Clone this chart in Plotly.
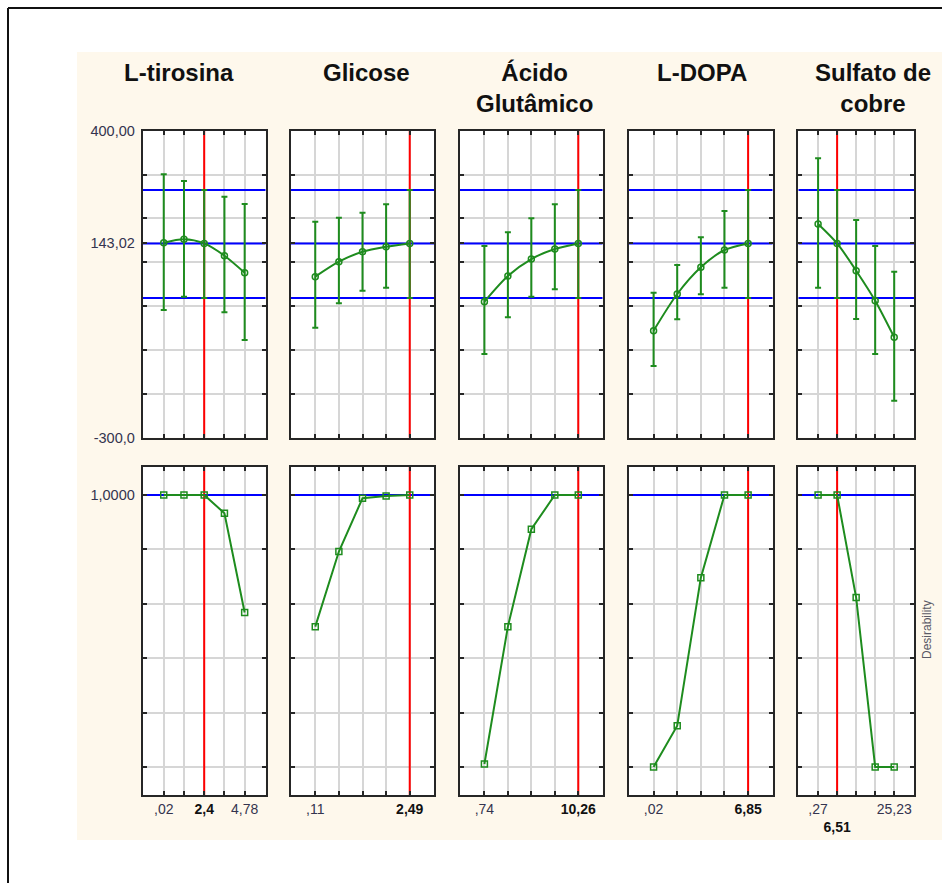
import plotly.graph_objects as go

# ---------------- data ----------------
factors = ["L-tirosina", "Glicose", "Ácido<br>Glutâmico", "L-DOPA", "Sulfato de<br>cobre"]

levels_lt = [0.02, 1.21, 2.40, 3.59, 4.78]
levels_gl = [0.11, 0.705, 1.30, 1.895, 2.49]
levels_ag = [0.74, 3.12, 5.50, 7.88, 10.26]
levels_ld = [0.02, 1.7275, 3.435, 5.1425, 6.85]
levels_sc = [0.27, 6.51, 12.75, 18.99, 25.23]

current_levels = [2.40, 2.49, 10.26, 6.85, 6.51]

# x tick labels (one per level, empty = unlabeled)
ticktext_lt = [",02", "", "2,4", "", "4,78"]
ticktext_gl = [",11", "", "", "", "2,49"]
ticktext_ag = [",74", "", "", "", "10,26"]
ticktext_ld = [",02", "", "", "", "6,85"]
ticktext_sc = [",27", "6,51", "", "", "25,23"]

# predicted response (mean) and confidence limits
resp_lt = [144.6, 152.4, 143.02, 115.0, 76.2]
upper_lt = [300.6, 285.3, 265.0, 249.5, 232.9]
lower_lt = [-8.8, 21.5, 18.5, -14.0, -77.2]

resp_gl = [67.1, 101.3, 124.1, 135.5, 143.02]
upper_gl = [192.5, 201.6, 213.0, 232.2, 265.0]
lower_gl = [-49.2, 6.5, 35.2, 42.0, 18.5]

resp_ag = [10.1, 68.7, 107.4, 130.3, 143.02]
upper_ag = [137.1, 168.4, 200.3, 232.2, 265.0]
lower_ag = [-109.1, -25.4, 21.5, 38.4, 18.5]

resp_ld = [-56.0, 27.7, 88.6, 128.0, 143.02]
upper_ld = [30.6, 93.8, 157.0, 216.9, 265.0]
lower_ld = [-136.5, -30.0, 27.0, 42.0, 18.5]

resp_sc = [187.3, 143.02, 80.8, 12.4, -71.0]
upper_sc = [337.1, 265.0, 196.4, 137.1, 78.5]
lower_sc = [42.0, 18.5, -29.3, -109.1, -215.6]

pred_value = 143.02
pred_upper = 265.0
pred_lower = 18.5

# desirability
desir_lt = [1.0, 1.0, 1.0, 0.933, 0.568]
desir_gl = [0.516, 0.792, 0.988, 0.996, 1.0]
desir_ag = [0.011, 0.516, 0.874, 1.0, 1.0]
desir_ld = [0.0, 0.152, 0.696, 1.0, 1.0]
desir_sc = [1.0, 1.0, 0.623, 0.0, 0.0]
desir_max = 1.0

resp_range = [-300, 400]
resp_ticks = [-300, -200, -100, 0, 100, 200, 300, 400, 143.02]
resp_ticktext = ["-300,0", "", "", "", "", "", "", "400,00", "143,02"]
desir_range = [-0.103, 1.104]
desir_ticks = [0.0, 0.2, 0.4, 0.6, 0.8, 1.0]
desir_ticktext = ["", "", "", "", "", "1,0000"]

levels = [levels_lt, levels_gl, levels_ag, levels_ld, levels_sc]
ticktexts = [ticktext_lt, ticktext_gl, ticktext_ag, ticktext_ld, ticktext_sc]
resps = [resp_lt, resp_gl, resp_ag, resp_ld, resp_sc]
uppers = [upper_lt, upper_gl, upper_ag, upper_ld, upper_sc]
lowers = [lower_lt, lower_gl, lower_ag, lower_ld, lower_sc]
desirs = [desir_lt, desir_gl, desir_ag, desir_ld, desir_sc]

# ---------------- layout geometry (pixels) ----------------
W, H = 942, 883
col_px = [(142.7, 265.7), (290.7, 434.3), (460.0, 602.7), (629.0, 772.7), (798.3, 914.0)]
row_px = [(130.7, 437.7), (466.7, 795.0)]
title_cx = [178.6, 366.0, 534.0, 701.7, 872.5]
pad_steps = 1.04

GREEN = "#1E8C1E"
GRID = "#D6D6D6"
AXC = "#262626"
LABC = "#34344f"
BEIGE = "#FEF8EC"


def px_x(v):
    return v / W


def px_y(v):
    return 1 - v / H


fig = go.Figure()
layout = dict(
    width=W, height=H, autosize=False,
    margin=dict(l=0, r=0, t=0, b=0, pad=0, autoexpand=False),
    paper_bgcolor=BEIGE, plot_bgcolor="white",
    showlegend=False,
    font=dict(family="Liberation Sans, Arial, sans-serif", color=LABC),
)
shapes = []
annotations = []

# white surround outside the beige area
for (x0, x1, y0, y1) in [(-2, 77, -2, H + 2), (-2, W + 2, -2, 52), (-2, W + 2, 840, H + 2)]:
    shapes.append(dict(type="rect", xref="paper", yref="paper",
                       x0=px_x(x0), x1=px_x(x1), y0=px_y(y1), y1=px_y(y0),
                       fillcolor="white", line=dict(width=0), layer="below"))
# outer frame
shapes.append(dict(type="line", xref="paper", yref="paper",
                   x0=px_x(8), x1=px_x(W + 2), y0=px_y(8), y1=px_y(8),
                   line=dict(color="#111", width=2), layer="above"))
shapes.append(dict(type="line", xref="paper", yref="paper",
                   x0=px_x(8), x1=px_x(8), y0=px_y(8), y1=px_y(H + 2),
                   line=dict(color="#111", width=2), layer="above"))

for c in range(5):
    lv = levels[c]
    step = lv[1] - lv[0]
    xr = [lv[0] - pad_steps * step, lv[-1] + pad_steps * step]
    cur = current_levels[c]
    for r in range(2):
        idx = r * 5 + c + 1
        xa = "x" if idx == 1 else f"x{idx}"
        ya = "y" if idx == 1 else f"y{idx}"
        xkey = "xaxis" if idx == 1 else f"xaxis{idx}"
        ykey = "yaxis" if idx == 1 else f"yaxis{idx}"

        tt = []
        for v, t in zip(lv, ticktexts[c]):
            if t == "":
                tt.append("")
            elif v == cur:
                if c == 4:
                    tt.append(" <br><span style='color:#111'><b>" + t + "</b></span>")
                else:
                    tt.append("<span style='color:#111'><b>" + t + "</b></span>")
            else:
                tt.append(t)

        layout[xkey] = dict(
            domain=[px_x(col_px[c][0]), px_x(col_px[c][1])],
            anchor=ya, range=xr, automargin=False,
            tickmode="array", tickvals=lv, ticktext=tt, tickangle=0,
            showticklabels=(r == 1),
            ticks="inside", ticklen=4, tickwidth=1.5, tickcolor=AXC,
            showline=True, linecolor=AXC, linewidth=2, mirror="ticks",
            showgrid=True, gridcolor=GRID, gridwidth=2, zeroline=False,
            tickfont=dict(size=14, color=LABC),
            ticklabelstandoff=0,
            fixedrange=True,
        )
        if r == 0:
            yr, yt, ytt = resp_range, resp_ticks, resp_ticktext
        else:
            yr, yt, ytt = desir_range, desir_ticks, desir_ticktext
        layout[ykey] = dict(
            domain=[px_y(row_px[r][1]), px_y(row_px[r][0])],
            anchor=xa, range=yr, automargin=False,
            tickmode="array", tickvals=yt, ticktext=ytt,
            showticklabels=(c == 0),
            ticks="inside", ticklen=4, tickwidth=1.5, tickcolor=AXC,
            showline=True, linecolor=AXC, linewidth=2, mirror="ticks",
            showgrid=True, gridcolor=GRID, gridwidth=2, zeroline=False,
            tickfont=dict(size=14.5, color=LABC),
            ticklabelstandoff=3,
            fixedrange=True,
        )

        # blue reference lines (drawn as traces so they sit above gridlines)
        hl = [pred_value, pred_upper, pred_lower] if r == 0 else [desir_max]
        for hv in hl:
            fig.add_trace(go.Scatter(
                x=xr, y=[hv, hv], xaxis=xa, yaxis=ya, mode="lines",
                line=dict(color="#0000FF", width=2), hoverinfo="skip"))
        # red current-level line
        fig.add_trace(go.Scatter(
            x=[cur, cur], y=yr, xaxis=xa, yaxis=ya, mode="lines",
            line=dict(color="#FF0000", width=2), hoverinfo="skip"))

        if r == 0:
            m = resps[c]
            up = [u - v for u, v in zip(uppers[c], m)]
            dn = [v - l for v, l in zip(m, lowers[c])]
            fig.add_trace(go.Scatter(
                x=lv, y=m, xaxis=xa, yaxis=ya, mode="lines+markers",
                line=dict(color=GREEN, width=2, shape="spline", smoothing=0.8),
                marker=dict(symbol="circle-open", size=6, color=GREEN,
                            line=dict(width=1.5, color=GREEN)),
                error_y=dict(type="data", symmetric=False, array=up, arrayminus=dn,
                             color=GREEN, thickness=2, width=3),
                hoverinfo="skip"))
        else:
            fig.add_trace(go.Scatter(
                x=lv, y=desirs[c], xaxis=xa, yaxis=ya, mode="lines+markers",
                line=dict(color=GREEN, width=2),
                marker=dict(symbol="square-open", size=6, color=GREEN,
                            line=dict(width=1.5, color=GREEN)),
                hoverinfo="skip"))

    annotations.append(dict(
        text="<b>" + factors[c] + "</b>", xref="paper", yref="paper",
        x=px_x(title_cx[c]), y=px_y(57), xanchor="center", yanchor="top",
        showarrow=False, align="center",
        font=dict(size=24, color="#111", family="Liberation Sans, Arial, sans-serif")))

annotations.append(dict(
    text="Desirability", xref="paper", yref="paper",
    x=px_x(927), y=px_y(630), xanchor="center", yanchor="middle",
    textangle=-90, showarrow=False,
    font=dict(size=12, color="#5a5a66")))

layout["shapes"] = shapes
layout["annotations"] = annotations
fig.update_layout(**layout)
fig.write_html("out.html", config={"displayModeBar": False},
               post_script="document.body.style.margin='0px';document.body.style.overflow='hidden';")
